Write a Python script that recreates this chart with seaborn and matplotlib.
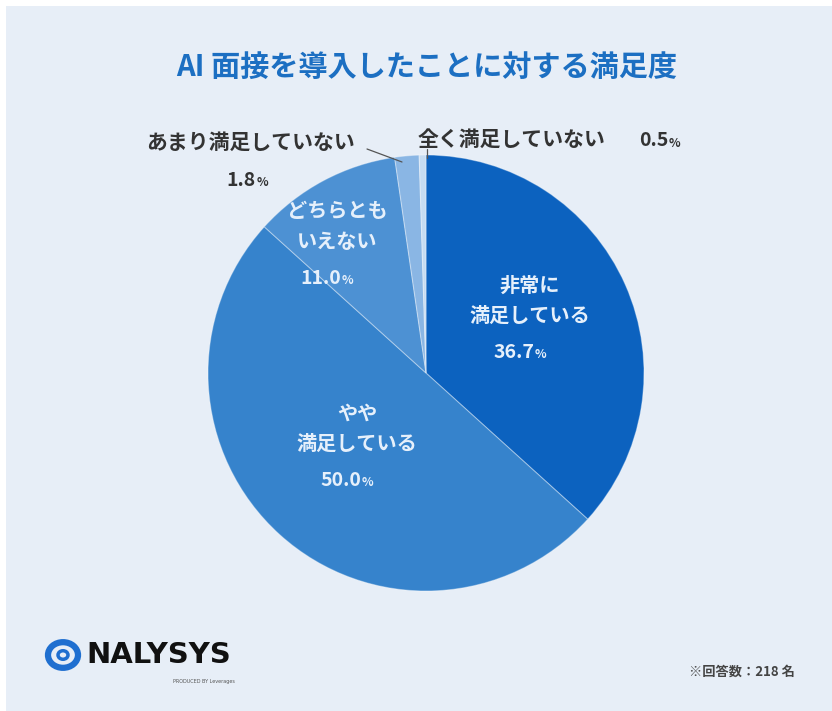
import numpy as np
import matplotlib.pyplot as plt
import seaborn as sns
from matplotlib.patches import Rectangle, Circle

categories = ["非常に満足している", "やや満足している", "どちらともいえない", "あまり満足していない", "全く満足していない"]
values = [36.7, 50.0, 11.0, 1.8, 0.5]
inner_labels = ["非常に\n満足している", "やや\n満足している", "どちらとも\nいえない", None, None]
colors = ["#0c62bf", "#3683cc", "#4d91d3", "#8ab6e4", "#c6dcf2"]
title = "AI 面接を導入したことに対する満足度"
n_answers = 218

sns.set_theme(style="white")
plt.rcParams['font.family'] = ['Noto Sans CJK JP', 'DejaVu Sans']

W, H = 832, 711
fig = plt.figure(figsize=(W / 100, H / 100), dpi=100, facecolor="white")
# light panel background
fig.patches.append(Rectangle((6 / W, 0), 1, 1 - 6 / H, transform=fig.transFigure,
                             facecolor="#e7eef7", edgecolor="none", zorder=-5))

def px(x, y):
    return x / W, 1 - y / H

# pie axis: center (426, 373) radius 218 px
cx, cy, r = 426, 373, 218
ax = fig.add_axes([(cx - r) / W, (H - cy - r) / H, 2 * r / W, 2 * r / H])
ax.set_facecolor("none")
wedges, _ = ax.pie(values, colors=colors, startangle=90, counterclock=False, radius=1,
                   wedgeprops=dict(edgecolor=(1, 1, 1, 0.35), linewidth=0.8))
ax.set_xlim(-1, 1)
ax.set_ylim(-1, 1)
ax.set_aspect("equal")
ax.axis("off")

def pct(x, y, v, color, size):
    tx, ty = px(x, y)
    fig.text(tx, ty, f"{v:.1f}", ha="right", va="center", color=color,
             fontsize=size, fontweight="bold", zorder=5)
    fig.text(tx + 1 / W, ty - 0.003, "%", ha="left", va="center", color=color,
             fontsize=size * 0.62, fontweight="bold", zorder=5)

# inside labels (pixel positions of label block centres)
light = "#e6f0fb"
label_pos = {0: (530, 300), 1: (357, 428), 2: (337, 226)}
for i, (x, y) in label_pos.items():
    fig.text(*px(x, y), inner_labels[i], ha="center", va="center", color=light,
             fontsize=14.5, fontweight="bold", linespacing=1.55, zorder=5)
    pct(x + 4, y + 52, values[i], light, 14)

# outside labels
dark = "#333333"
fig.text(*px(250, 142), categories[3], ha="center", va="center", color=dark,
         fontsize=15, fontweight="bold")
pct(256, 180, values[3], dark, 14)

fig.text(*px(512, 139), categories[4], ha="center", va="center", color=dark,
         fontsize=15, fontweight="bold")
pct(668, 141, values[4], dark, 14)

# leader lines
fig.lines.append(plt.Line2D([367 / W, 402 / W], [1 - 149 / H, 1 - 162 / H],
                            transform=fig.transFigure, color="#555555", linewidth=0.9))
fig.lines.append(plt.Line2D([427 / W, 427 / W], [1 - 149 / H, 1 - 158 / H],
                            transform=fig.transFigure, color="#555555", linewidth=0.9))

# title
fig.text(*px(427, 67), title, ha="center", va="center", color="#1c6fc2",
         fontsize=21, fontweight="bold")

# logo
fig.patches.append(Circle(px(63, 655), 15 / W, transform=fig.transFigure,
                          facecolor="none", edgecolor="#1f6fd0", linewidth=4.5))
fig.patches.append(Circle(px(63, 655), 5 / W, transform=fig.transFigure,
                          facecolor="none", edgecolor="#1f6fd0", linewidth=2.5))
fig.text(*px(86, 655), "NALYSYS", ha="left", va="center", color="#111111",
         fontsize=21, fontweight="bold", family=["DejaVu Sans"])
fig.text(*px(235, 681), "PRODUCED BY Leverages", ha="right", va="center", color="#555555",
         fontsize=3.5, family=["DejaVu Sans"])

# footnote
fig.text(*px(795, 672), f"※回答数：{n_answers} 名", ha="right", va="center", color="#444444",
         fontsize=9.5, fontweight="bold")

fig.savefig("out.png", dpi=100, facecolor=fig.get_facecolor())
